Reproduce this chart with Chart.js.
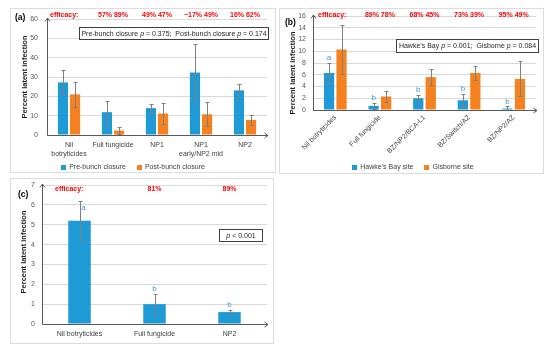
<!DOCTYPE html>
<html>
<head>
<meta charset="utf-8">
<script src="https://cdn.jsdelivr.net/npm/chart.js@4"></script>
<style>
body { margin: 0; background: #fff; width: 550px; height: 352px; position: relative; overflow: hidden; }
.panel { position: absolute; border: 1px solid #dcdcdc; box-sizing: border-box; }
canvas { position: absolute; left: 0; top: 0; }
</style>
</head>
<body>
<div class="panel" style="left:10px;top:8px;width:266px;height:165px"></div>
<div class="panel" style="left:279px;top:8px;width:265px;height:166px"></div>
<div class="panel" style="left:10px;top:178px;width:264px;height:166px"></div>
<canvas id="chartA" width="550" height="352"></canvas>
<canvas id="chartB" width="550" height="352"></canvas>
<canvas id="chartC" width="550" height="352"></canvas>
<script>
// (a) timing trial
const catsA = [["Nil", "botryticides"], "Full fungicide", "NP1", ["NP1", "early/NP2 mid"], "NP2"];
const preBunch = [27.2, 11.8, 13.9, 32.3, 23.1];
const preBunchErr = [6.3, 6.0, 2.3, 15.0, 3.5];
const postBunch = [21.0, 2.3, 11.1, 10.7, 7.8];
const postBunchErr = [6.3, 1.8, 5.2, 6.2, 2.4];
const effPre = ["", "57%", "49%", "\u221217%", "16%"];
const effPost = ["", "89%", "47%", "49%", "62%"];

// (b) two sites
const catsB = ["Nil botryticides", "Full fungicide", "BZ/NP2/BCA-L1", "BZ/Switch/AZ", "BZ/NP2/AZ"];
const hawkesBay = [6.3, 0.7, 2.0, 1.65, 0.25];
const hawkesBayErr = [1.7, 0.45, 0.6, 1.05, 0.38];
const gisborne = [10.3, 2.3, 5.6, 6.3, 5.3];
const gisborneErr = [4.2, 1.0, 1.3, 1.2, 3.0];
const lettersB = ["a", "b", "b", "b", "b"];
const effHB = ["", "89%", "68%", "73%", "95%"];
const effGB = ["", "78%", "45%", "39%", "49%"];

// (c) single site
const catsC = ["Nil botryticides", "Full fungicide", "NP2"];
const latentC = [5.2, 1.0, 0.6];
const latentCErr = [1.0, 0.5, 0.12];
const lettersC = ["a", "b", "b"];
const effC = ["", "81%", "89%"];

const BLUE = "#1e9bd7";
const ORANGE = "#f5821f";
const FONT = '"Liberation Sans", Arial, sans-serif';
Chart.defaults.font.family = FONT;

const decor = {
  id: "decor",
  afterDatasetsDraw(chart, args, o) {
    const ctx = chart.ctx, a = chart.chartArea, xs = chart.scales.x, ys = chart.scales.y;
    ctx.save();

    // error bars
    ctx.strokeStyle = "#7f7f7f";
    ctx.lineWidth = 1;
    o.errors.forEach((errs, i) => {
      const meta = chart.getDatasetMeta(i), vals = chart.data.datasets[i].data;
      meta.data.forEach((bar, j) => {
        const x = Math.round(bar.x) + 0.5;
        const t = Math.round(ys.getPixelForValue(vals[j] + errs[j])) + 0.5;
        const b = Math.round(ys.getPixelForValue(Math.max(0, vals[j] - errs[j]))) + 0.5;
        ctx.beginPath();
        ctx.moveTo(x, t); ctx.lineTo(x, b);
        ctx.moveTo(x - 2, t); ctx.lineTo(x + 2, t);
        ctx.moveTo(x - 2, b); ctx.lineTo(x + 2, b);
        ctx.stroke();
      });
    });

    // axes with arrow heads
    const L = Math.round(a.left) + 0.5, B = Math.round(a.bottom) + 0.5, T = a.top - 1, R = a.right + 1;
    ctx.strokeStyle = "#595959";
    ctx.beginPath();
    ctx.moveTo(L, B); ctx.lineTo(L, T);
    ctx.moveTo(L - 2.5, T + 3.5); ctx.lineTo(L, T); ctx.lineTo(L + 2.5, T + 3.5);
    ctx.moveTo(L, B); ctx.lineTo(R, B);
    ctx.moveTo(R - 3.5, B - 2.5); ctx.lineTo(R, B); ctx.lineTo(R - 3.5, B + 2.5);
    ctx.stroke();

    ctx.textBaseline = "middle";

    // significance letters over first series
    if (o.letters) {
      ctx.fillStyle = "#3d9ad8";
      ctx.font = "8px " + FONT;
      ctx.textAlign = "center";
      const meta = chart.getDatasetMeta(0), vals = chart.data.datasets[0].data;
      o.letters.forEach((s, j) => {
        const sh = (o.letterShift && o.letterShift[j]) || [0, 0];
        const t = ys.getPixelForValue(vals[j] + o.errors[0][j]);
        ctx.fillText(s, meta.data[j].x + sh[0], t - 5 + sh[1]);
      });
    }

    // efficacy row
    ctx.fillStyle = "#ff0000";
    ctx.font = "bold 7px " + FONT;
    ctx.textAlign = "left";
    ctx.fillText("efficacy:", o.effX, o.effY);
    ctx.textAlign = "center";
    chart.data.labels.forEach((_, j) => {
      const s = o.eff.map(e => e[j]).filter(Boolean).join(" ");
      if (s) ctx.fillText(s, xs.getPixelForValue(j) + (o.effDx || 0), o.effY);
    });

    // p-value box
    const bx = o.box;
    ctx.fillStyle = "#fff";
    ctx.fillRect(bx.x, bx.y, bx.w, bx.h);
    ctx.strokeStyle = "#404040";
    ctx.strokeRect(bx.x + 0.5, bx.y + 0.5, bx.w, bx.h);
    const fN = "7px " + FONT, fI = "italic 7px " + FONT;
    let total = 0;
    bx.parts.forEach(p => { ctx.font = p[1] ? fI : fN; total += ctx.measureText(p[0]).width; });
    let cx = bx.x + bx.w / 2 - total / 2 + 0.5;
    ctx.textAlign = "left";
    ctx.fillStyle = "#262626";
    bx.parts.forEach(p => {
      ctx.font = p[1] ? fI : fN;
      ctx.fillText(p[0], cx, bx.y + bx.h / 2 + 1);
      cx += ctx.measureText(p[0]).width;
    });

    // legend
    if (o.legend) {
      ctx.font = "7px " + FONT;
      const sq = 5, g1 = 3, g2 = 11;
      const items = chart.data.datasets.map(d => ({ t: d.label, c: d.backgroundColor }));
      const w = items.reduce((s, it) => s + sq + g1 + ctx.measureText(it.t).width, 0) + g2 * (items.length - 1);
      let lx = o.legend.cx - w / 2;
      items.forEach(it => {
        ctx.fillStyle = it.c;
        ctx.fillRect(Math.round(lx), Math.round(o.legend.cy - sq / 2), sq, sq);
        lx += sq + g1;
        ctx.fillStyle = "#404040";
        ctx.fillText(it.t, lx, o.legend.cy);
        lx += ctx.measureText(it.t).width + g2;
      });
    }

    // y title
    ctx.save();
    ctx.translate(o.yTitle.x, o.yTitle.y);
    ctx.rotate(-Math.PI / 2);
    ctx.font = "bold 7.5px " + FONT;
    ctx.fillStyle = "#1a1a1a";
    ctx.textAlign = "center";
    ctx.fillText("Percent latent infection", 0, 0);
    ctx.restore();

    // panel tag
    ctx.font = "bold 8.5px " + FONT;
    ctx.fillStyle = "#000";
    ctx.textAlign = "left";
    ctx.fillText(o.tag.text, o.tag.x, o.tag.y);

    ctx.restore();
  }
};

function makeChart(id, labels, datasets, s) {
  new Chart(document.getElementById(id), {
    type: "bar",
    data: { labels: labels, datasets: datasets },
    plugins: [decor],
    options: {
      responsive: false,
      animation: false,
      events: [],
      layout: { padding: s.padding },
      datasets: { bar: { categoryPercentage: s.cp, barPercentage: s.bp, borderWidth: 0 } },
      plugins: { legend: { display: false }, tooltip: { enabled: false }, decor: s.decor },
      scales: {
        x: {
          grid: { display: false, drawTicks: false },
          border: { display: false },
          ticks: {
            autoSkip: false, minRotation: s.rot, maxRotation: s.rot, padding: s.xPad,
            color: "#404040", font: { size: 7, lineHeight: 1.35 }
          },
          afterFit(sc) { sc.height = s.xH; }
        },
        y: {
          min: 0, max: s.yMax,
          grid: { color: "#d9d9d9", drawTicks: false },
          border: { display: false },
          ticks: { stepSize: s.step, padding: s.yPad, color: "#595959", font: { size: 7 } },
          afterFit(sc) { sc.width = s.yW; }
        }
      }
    }
  });
}

makeChart("chartA", catsA, [
  { label: "Pre-bunch closure", data: preBunch, backgroundColor: BLUE },
  { label: "Post-bunch closure", data: postBunch, backgroundColor: ORANGE }
], {
  padding: { left: 20, right: 283, top: 19, bottom: 187 }, yW: 27, xH: 30,
  cp: 0.55, bp: 0.84, rot: 0, xPad: 5, yPad: 9, yMax: 60, step: 10,
  decor: {
    errors: [preBunchErr, postBunchErr],
    eff: [effPre, effPost], effX: 50, effY: 15.5,
    box: { x: 79, y: 27, w: 189, h: 12, parts: [["Pre-bunch closure ", 0], ["p", 1], [" = 0.375;  Post-bunch closure ", 0], ["p", 1], [" = 0.174", 0]] },
    legend: { cx: 133, cy: 167 },
    yTitle: { x: 25, y: 77 },
    tag: { text: "(a)", x: 15, y: 18 }
  }
});

makeChart("chartB", catsB, [
  { label: "Hawke\u2019s Bay site", data: hawkesBay, backgroundColor: BLUE },
  { label: "Gisborne site", data: gisborne, backgroundColor: ORANGE }
], {
  padding: { left: 288, right: 14, top: 16, bottom: 182 }, yW: 25, xH: 60,
  cp: 0.56, bp: 0.82, rot: 45, xPad: 3, yPad: 7, yMax: 16, step: 2,
  decor: {
    errors: [hawkesBayErr, gisborneErr],
    letters: lettersB,
    eff: [effHB, effGB], effX: 318, effY: 15.5,
    box: { x: 396, y: 39, w: 142, h: 13, parts: [["Hawke\u2019s Bay ", 0], ["p", 1], [" = 0.001;  Gisborne ", 0], ["p", 1], [" = 0.084", 0]] },
    legend: { cx: 413, cy: 167 },
    yTitle: { x: 293, y: 73 },
    tag: { text: "(b)", x: 285, y: 23 }
  }
});

makeChart("chartC", catsC, [
  { label: "Latent infection", data: latentC, backgroundColor: BLUE }
], {
  padding: { left: 19, right: 283, top: 185, bottom: 8 }, yW: 23, xH: 20,
  cp: 0.6, bp: 0.5, rot: 0, xPad: 5, yPad: 7, yMax: 7, step: 1,
  decor: {
    errors: [latentCErr],
    letters: lettersC, letterShift: [[4, 12], [0, 0], [0, 0]],
    eff: [effC], effX: 55, effY: 189,
    box: { x: 219, y: 229, w: 43, h: 12, parts: [["p", 1], [" < 0.001", 0]] },
    yTitle: { x: 24, y: 252 },
    tag: { text: "(c)", x: 18, y: 195 }
  }
});
</script>
</body>
</html>
